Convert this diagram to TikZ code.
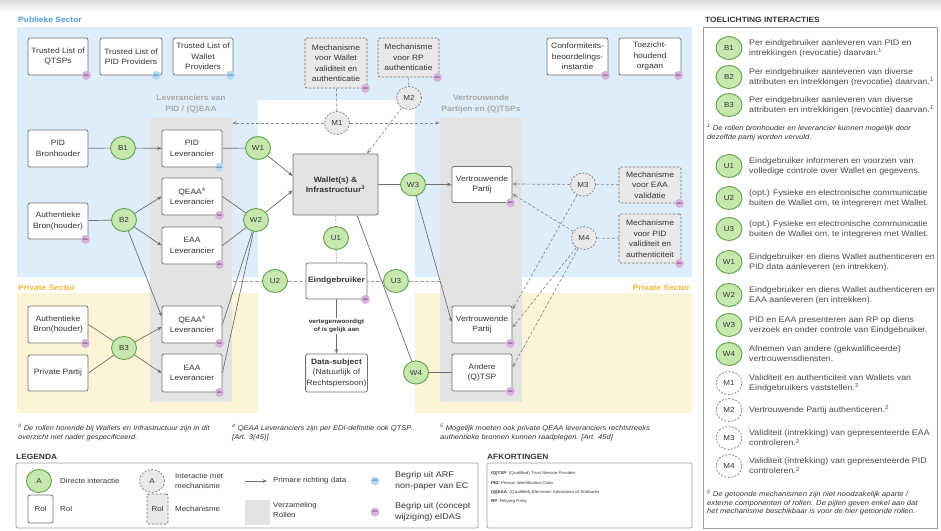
\documentclass[tikz,border=0pt]{standalone}
\usepackage{fontspec}
\setmainfont{Liberation Sans}[FakeStretch=1.1]
\usetikzlibrary{arrows.meta,shapes.geometric}

\definecolor{bluebg}{HTML}{DDEEFA}
\definecolor{yellowbg}{HTML}{FDF3D6}
\definecolor{grpgrey}{HTML}{E3E3E3}
\definecolor{linegrey}{HTML}{6E6E6E}
\definecolor{boxline}{HTML}{727272}
\definecolor{greenfill}{HTML}{C6E8AE}
\definecolor{greenline}{HTML}{5FA049}
\definecolor{mechfill}{HTML}{E9E9E9}
\definecolor{dashgrey}{HTML}{8A8A8A}
\definecolor{txt}{HTML}{363636}
\definecolor{pubblue}{HTML}{4A9ED8}
\definecolor{privorange}{HTML}{F4B733}
\definecolor{grplabel}{HTML}{A8A8A8}
\definecolor{arffill}{HTML}{B8DBF3}
\definecolor{arftext}{HTML}{2E6DA4}
\definecolor{edifill}{HTML}{D6B3D8}
\definecolor{editext}{HTML}{7A3E80}

\newcommand\dnodefont{\fontsize{7.7}{10.5}\selectfont}
\newcommand\dcircfont{\fontsize{7.3}{8}\selectfont}
\newcommand\dbadgefont{\fontsize{2.6}{3}\selectfont\bfseries}
\newcommand\dpanelfont{\fontsize{8.05}{9.9}\selectfont}
\newcommand\dnotefont{\fontsize{6.9}{9.8}\selectfont\itshape}
\newcommand\dlegfont{\fontsize{7.2}{10}\selectfont}
\newcommand\dheadfont{\fontsize{7.6}{9}\selectfont\bfseries}

\pgfdeclarelayer{areas}
\pgfdeclarelayer{links}
\pgfsetlayers{areas,links,main}

\tikzset{
  every node/.style={text=txt},
  rol/.style={draw=boxline, fill=white, rounded corners=2pt, line width=0.8pt,
    align=center, inner sep=1pt, font=\dnodefont, minimum width=60pt, minimum height=37pt},
  mech/.style={rol, dash pattern=on 2.5pt off 1.5pt, fill=mechfill},
  walletbox/.style={rol, fill=grpgrey, font=\dnodefont\bfseries},
  direct/.style={ellipse, draw=greenline, fill=greenfill, line width=0.9pt,
    minimum width=25pt, minimum height=23pt, inner sep=0pt, font=\dcircfont},
  viamech/.style={ellipse, draw=dashgrey, fill=mechfill, line width=0.8pt,
    dash pattern=on 2pt off 1.5pt, minimum width=25pt, minimum height=23pt,
    inner sep=0pt, font=\dcircfont},
  group/.style={fill=grpgrey, inner sep=0pt},
  conn/.style={draw=linegrey, line width=0.7pt},
  dataflow/.style={conn, -{Stealth[length=4.5pt,width=3.6pt]}},
  mlink/.style={conn, draw=dashgrey, dash pattern=on 3pt off 2pt},
  mflow/.style={mlink, -{Stealth[length=4.5pt,width=3.6pt]}},
  ulink/.style={conn, draw=dashgrey!80, dash pattern=on 3.5pt off 2pt},
  arf/.style={circle, fill=arffill, minimum size=9pt, inner sep=0pt, font=\dbadgefont, text=arftext},
  edi/.style={circle, fill=edifill, minimum size=9pt, inner sep=0pt, font=\dbadgefont, text=editext},
  seclabel/.style={font=\fontsize{7.7}{9}\selectfont\bfseries},
  grplab/.style={font=\fontsize{7.7}{11}\selectfont\bfseries, text=grplabel, align=center},
  ptext/.style={anchor=west, align=left, font=\dpanelfont, inner sep=0pt, text=txt!90},
  legtext/.style={anchor=west, align=left, font=\dlegfont, inner sep=0pt},
  note/.style={anchor=north west, align=left, font=\dnotefont, inner sep=0pt},
}

\begin{document}
\begin{tikzpicture}[x=1pt,y=-1pt]
\useasboundingbox (0,0) rectangle (941,530);

% ---------- areas ----------
\begin{pgfonlayer}{areas}
  \fill[white] (0,0) rectangle (941,530);
  \shade[top color=black!14, bottom color=white] (0,0) rectangle (941,12);
  \fill[bluebg] (17,27) -- (692,27) -- (692,277) -- (415,277) -- (415,100)
     -- (258,100) -- (258,277) -- (17,277) -- cycle;
  \fill[yellowbg] (17,293) rectangle (258,413);
  \fill[yellowbg] (415,293) rectangle (692,413);
  \node[group, minimum width=82pt, minimum height=284pt] (gleft) at (191,260) {};
  \node[group, minimum width=82pt, minimum height=284pt] (gright) at (481,260) {};
\end{pgfonlayer}

% ---------- sector and group labels ----------
\node[seclabel, text=pubblue, anchor=west, inner sep=0pt] (pubsec) at (18,20) {Publieke Sector};
\node[seclabel, text=privorange, anchor=west, inner sep=0pt] (privsecL) at (18,288) {Private Sector};
\node[seclabel, text=privorange, anchor=east, inner sep=0pt] (privsecR) at (690,288) {Private Sector};
\node[grplab] (glab) at (191,104.5) {Leveranciers van\\PID / (Q)EAA};
\node[grplab] (grlab) at (481,104.5) {Vertrouwende\\Partijen en (Q)TSPs};

% ---------- top row ----------
\node[rol] (tlq) at (58,56.5) {Trusted List of\\QTSPs};
\node[rol, minimum width=62pt] (tlp) at (131,56.5) {Trusted List of\\PID Providers};
\node[rol] (tlw) at (203,56.5) {Trusted List of\\Wallet\\Providers};
\node[mech, minimum width=62pt, minimum height=50pt] (mw) at (336,63) {Mechanisme\\voor Wallet\\validiteit en\\authenticatie};
\node[mech, minimum width=61pt, minimum height=39pt] (mrp) at (408.5,57.5) {Mechanisme\\voor RP\\authenticatie};
\node[rol, minimum width=61pt] (conf) at (577.5,56.5) {Conformiteits-\\beoordelings-\\instantie};
\node[rol, minimum width=62pt] (toez) at (650,56.5) {Toezicht-\\houdend\\orgaan};

% ---------- sources and providers ----------
\node[rol] (pidb) at (58,148.5) {PID\\Bronhouder};
\node[rol] (pidl) at (192,148.5) {PID\\Leverancier};
\node[rol] (qeaa1) at (192,196.5) {QEAA\textsuperscript{4}\\Leverancier};
\node[rol] (eaa1) at (192,245.5) {EAA\\Leverancier};
\node[rol, minimum height=36pt] (abpub) at (58,221) {Authentieke\\Bron(houder)};
\node[rol] (abpriv) at (58,324.5) {Authentieke\\Bron(houder)};
\node[rol, minimum height=36pt] (pp) at (58,373) {Private Partij};
\node[rol] (qeaa2) at (192,324.5) {QEAA\textsuperscript{4}\\Leverancier};
\node[rol, minimum height=38pt] (eaa2) at (192,373) {EAA\\Leverancier};

% ---------- wallet and end user ----------
\node[walletbox, minimum width=85pt, minimum height=61pt] (wallet) at (335.5,184.5) {Wallet(s) \&\\Infrastructuur\textsuperscript{3}};
\node[rol, minimum width=61pt, minimum height=36pt, font=\dnodefont\bfseries] (eind) at (336.5,281) {Eindgebruiker};
\node[rol, minimum width=61pt, minimum height=38pt] (data) at (336.5,373) {\textbf{Data-subject}\\(Natuurlijk of\\Rechtspersoon)};
\node[fill=white, inner sep=1pt, align=center, font=\fontsize{6}{8}\selectfont\bfseries] (rep) at (336.5,326) {vertegenwoordigt\\of is gelijk aan};

% ---------- relying parties ----------
\node[rol, minimum height=36pt] (vp1) at (482,184.5) {Vertrouwende\\Partij};
\node[rol] (vp2) at (482,324.5) {Vertrouwende\\Partij};
\node[rol] (aq) at (482,372.5) {Andere\\(Q)TSP};
\node[mech, minimum width=62pt, minimum height=36pt] (meaa) at (650,185) {Mechanisme\\voor EAA\\validatie};
\node[mech, minimum width=62pt, minimum height=49pt] (mpid) at (650,238.5) {Mechanisme\\voor PID\\validiteit en\\authenticiteit};

% ---------- badges ----------
\node[edi] (b-tlq) at ([xshift=-2pt]tlq.south east) {EDI};
\node[arf] (b-tlp) at ([xshift=-6pt]tlp.south east) {ARF};
\node[arf] (b-tlw) at ([xshift=-3pt]tlw.south east) {ARF};
\node[edi] (b-mw) at ([xshift=-2pt]mw.south east) {EDI};
\node[edi] (b-mrp) at ([xshift=-2pt]mrp.south east) {EDI};
\node[edi] (b-conf) at ([xshift=-3pt]conf.south east) {EDI};
\node[edi] (b-toez) at ([xshift=-3pt]toez.south east) {EDI};
\node[arf] (b-pidl) at ([xshift=-3pt]pidl.south east) {ARF};
\node[edi] (b-qeaa1) at ([xshift=-3pt]qeaa1.south east) {EDI};
\node[edi] (b-eaa1) at ([xshift=-3pt]eaa1.south east) {EDI};
\node[edi] (b-abpub) at ([xshift=-3pt]abpub.south east) {EDI};
\node[edi] (b-abpriv) at ([xshift=-3pt]abpriv.south east) {EDI};
\node[edi] (b-qeaa2) at ([xshift=-3pt]qeaa2.south east) {EDI};
\node[edi] (b-eaa2) at ([xshift=-3pt]eaa2.south east) {EDI};
\node[edi] (b-eind) at ([xshift=-2pt]eind.south east) {EDI};
\node[edi] (b-vp1) at ([xshift=-2pt]vp1.south east) {EDI};
\node[edi] (b-vp2) at ([xshift=-2pt]vp2.south east) {EDI};
\node[edi] (b-aq) at ([xshift=-2pt]aq.south east) {EDI};
\node[edi] (b-meaa) at ([xshift=-2pt]meaa.south east) {EDI};
\node[edi] (b-mpid) at ([xshift=-2pt]mpid.south east) {EDI};

% ---------- interaction circles ----------
\node[direct] (B1) at (123,148) {B1};
\node[direct] (B2) at (124,220) {B2};
\node[direct] (B3) at (124,348) {B3};
\node[direct] (W1) at (258,148) {W1};
\node[direct] (W2) at (256,220) {W2};
\node[direct] (W3) at (413,184.5) {W3};
\node[direct] (W4) at (416,372.5) {W4};
\node[direct] (U1) at (336,238) {U1};
\node[direct] (U2) at (275,281) {U2};
\node[direct] (U3) at (396,281) {U3};
\node[viamech] (M1) at (337,123) {M1};
\node[viamech] (M2) at (409,98) {M2};
\node[viamech] (M3) at (583,184.5) {M3};
\node[viamech] (M4) at (584,238) {M4};

% ---------- connectors ----------
\coordinate (uL) at (233,281);
\coordinate (uR) at (440,281);
\begin{pgfonlayer}{links}
  % suppliers of attributes
  \draw[conn] (pidb) -- (B1);
  \draw[dataflow] (B1) -- (pidl);
  \draw[conn] (abpub) -- (B2);
  \draw[dataflow] (B2) -- (qeaa1.west);
  \draw[dataflow] (B2) -- (eaa1.west);
  \draw[dataflow] (B2) -- ([yshift=8pt]qeaa2.west);
  \draw[conn] (abpriv.east) -- (B3);
  \draw[conn] (pp.east) -- (B3);
  \draw[dataflow] (B3) -- ([yshift=-2.5pt]qeaa2.west);
  \draw[dataflow] (B3) -- (eaa2.west);
  % towards the wallet
  \draw[conn] (pidl) -- (W1);
  \draw[dataflow] (W1) -- ([yshift=8.5pt]wallet.west);
  \draw[conn] (qeaa1.east) -- (W2);
  \draw[conn] (eaa1.east) -- (W2);
  \draw[conn] (qeaa2.east) -- (W2);
  \draw[conn] (eaa2.east) -- (W2);
  \draw[dataflow] (W2) -- ([yshift=-6pt]wallet.west);
  % towards relying parties
  \draw[conn] (wallet) -- (W3);
  \draw[dataflow] (W3) -- (vp1);
  \draw[dataflow] (W3) -- ([yshift=2.5pt]vp2.west);
  \draw[conn] ([xshift=21.5pt]wallet.south) -- (W4);
  \draw[conn] (W4) -- (aq);
  % end user
  \draw[ulink] (uL) -- (uR);
  \draw[ulink, dash pattern=on 2pt off 1.5pt] (wallet) -- (U1);
  \draw[ulink, dash pattern=on 2pt off 1.5pt] (U1) -- (eind);
  \draw[dataflow] (eind) -- (data);
  % mechanisms
  \draw[mlink] (mw) -- (M1);
  \draw[mflow] (M1) -- (gleft.east |- M1);
  \draw[mflow] (M1) -- (gright.west |- M1);
  \draw[mlink] (mrp) -- (M2);
  \draw[mflow] (M2) -- ([xshift=31.5pt]wallet.north);
  \draw[mlink] (M3) -- (meaa);
  \draw[mflow] (M3) -- ([yshift=0.5pt]vp1.east);
  \draw[mflow] (M3) -- ([yshift=15pt]vp2.east);
  \draw[mlink] (M4) -- (mpid);
  \draw[mflow] (M4) -- ([yshift=-9.5pt]vp1.east);
  \draw[mflow] (M4) -- ([yshift=-3pt]vp2.east);
  \draw[mflow] (M4) -- ([yshift=5pt]aq.east);
\end{pgfonlayer}

% ---------- footnotes ----------
\node[note] (fn3) at (18,423.5) {\textsuperscript{3} De rollen horende bij Wallets en Infrastructuur zijn in dit\\overzicht niet nader gespecificeerd.};
\node[note] (fn4) at (232,423.5) {\textsuperscript{4} QEAA Leveranciers zijn per EDI-definitie ook QTSP.\\{}[Art. 3(45)]};
\node[note] (fn5) at (440,423.5) {\textsuperscript{5} Mogelijk moeten ook private QEAA leveranciers rechtstreeks\\authentieke bronnen kunnen raadplegen. [Art. 45d]};

% ---------- legend ----------
\node[font=\dheadfont, anchor=west, inner sep=0pt] (legtitle) at (16,457) {LEGENDA};
\draw[draw=boxline!70, line width=0.7pt, rounded corners=2pt] (16,463) rectangle (478,528);
\node[direct] (lgA) at (39,481) {A};
\node[legtext] (lgAt) at (60,481) {Directe interactie};
\node[viamech] (lgM) at (152,481) {A};
\node[legtext] (lgMt) at (175,481) {Interactie met\\mechanisme};
\coordinate (la1) at (245,481);
\coordinate (la2) at (267,481);
\draw[dataflow] (la1) -- (la2);
\node[legtext] (lgDt) at (273,481) {Primare richting data};
\node[arf] (lgARF) at (375,481) {ARF};
\node[legtext, font=\fontsize{8.2}{10.5}\selectfont] (lgARFt) at (395,481) {Begrip uit ARF\\non-paper van EC};
\node[rol, minimum width=25pt, minimum height=28pt, font=\dlegfont] (lgR) at (40.5,509) {Rol};
\node[legtext] (lgRt) at (60,509) {Rol};
\node[mech, minimum width=21pt, minimum height=30pt, font=\dlegfont] (lgMe) at (157.5,509) {Rol};
\node[legtext] (lgMet) at (175,509) {Mechanisme};
\node[group, minimum width=25pt, minimum height=25pt] (lgG) at (257.5,512) {};
\node[legtext] (lgGt) at (273,510) {Verzameling\\Rollen};
\node[edi] (lgEDI) at (375,512) {EDI};
\node[legtext, font=\fontsize{8.2}{10.5}\selectfont] (lgEDIt) at (395,512) {Begrip uit (concept\\wijziging) eIDAS};

% ---------- abbreviations ----------
\node[font=\dheadfont, anchor=west, inner sep=0pt] (abbtitle) at (487,457) {AFKORTINGEN};
\draw[draw=boxline!70, line width=0.7pt, rounded corners=2pt] (487,463) rectangle (692,528);
\node[anchor=north west, align=left, inner sep=0pt, font=\fontsize{4.1}{9.4}\selectfont] (abbr) at (491,471.5)
  {\textbf{(Q)TSP}: (Qualified) Trust Service Provider\\
   \textbf{PID}: Person Identification Data\\
   \textbf{(Q)EAA}: (Qualified) Electronic Attestation of Attributes\\
   \textbf{RP}: Relying Party};

% ---------- explanation panel ----------
\node[font=\dheadfont, anchor=west, inner sep=0pt] (ptitle) at (705,20) {TOELICHTING INTERACTIES};
\draw[draw=boxline!70, line width=0.7pt] (703,27) rectangle (937,528);

\node[direct, minimum width=26pt] (pB1) at (729,48) {B1};
\node[ptext] (tB1) at (749,48) {Per eindgebruiker aanleveren van PID en\\intrekkingen (revocatie) daarvan.\textsuperscript{1}};
\node[direct, minimum width=26pt] (pB2) at (729,77) {B2};
\node[ptext] (tB2) at (749,77) {Per eindgebruiker aanleveren van diverse\\attributen en intrekkingen (revocatie) daarvan.\textsuperscript{1}};
\node[direct, minimum width=26pt] (pB3) at (729,105) {B3};
\node[ptext] (tB3) at (749,105) {Per eindgebruiker aanleveren van diverse\\attributen en intrekkingen (revocatie) daarvan.\textsuperscript{1}};
\node[note, font=\fontsize{7}{9}\selectfont\itshape] (fn1) at (707,124) {\textsuperscript{1} De rollen bronhouder en leverancier kunnen mogelijk door\\dezelfde partij worden vervuld.};

\node[direct, minimum width=26pt] (pU1) at (729,166) {U1};
\node[ptext] (tU1) at (749,166) {Eindgebruiker informeren en voorzien van\\volledige controle over Wallet en gegevens.};
\node[direct, minimum width=26pt] (pU2) at (729,198) {U2};
\node[ptext] (tU2) at (749,198) {(opt.) Fysieke en electronische communicatie\\buiten de Wallet om, te integreren met Wallet.};
\node[direct, minimum width=26pt] (pU3) at (729,229) {U3};
\node[ptext] (tU3) at (749,229) {(opt.) Fysieke en electronische communicatie\\buiten de Wallet om, te integreren met Wallet.};
\node[direct, minimum width=26pt] (pW1) at (729,262) {W1};
\node[ptext] (tW1) at (749,262) {Eindgebruiker en diens Wallet authenticeren en\\PID data aanleveren (en intrekken).};
\node[direct, minimum width=26pt] (pW2) at (729,295) {W2};
\node[ptext] (tW2) at (749,295) {Eindgebruiker en diens Wallet authenticeren en\\EAA aanleveren (en intrekken).};
\node[direct, minimum width=26pt] (pW3) at (729,325) {W3};
\node[ptext] (tW3) at (749,325) {PID en EAA presenteren aan RP op diens\\verzoek en onder controle van Eindgebruiker.};
\node[direct, minimum width=26pt] (pW4) at (729,354) {W4};
\node[ptext] (tW4) at (749,354) {Afnemen van andere (gekwalificeerde)\\vertrouwensdiensten.};

\node[viamech, fill=white, minimum width=26pt] (pM1) at (729,383) {M1};
\node[ptext] (tM1) at (749,383) {Validiteit en authenticiteit van Wallets van\\Eindgebruikers vaststellen.\textsuperscript{2}};
\node[viamech, fill=white, minimum width=26pt] (pM2) at (729,410) {M2};
\node[ptext] (tM2) at (749,410) {Vertrouwende Partij authenticeren.\textsuperscript{2}};
\node[viamech, fill=white, minimum width=26pt] (pM3) at (729,438) {M3};
\node[ptext] (tM3) at (749,438) {Validiteit (intrekking) van gepresenteerde EAA\\controleren.\textsuperscript{2}};
\node[viamech, fill=white, minimum width=26pt] (pM4) at (729,466) {M4};
\node[ptext] (tM4) at (749,466) {Validiteit (intrekking) van gepresenteerde PID\\controleren.\textsuperscript{2}};
\node[note, font=\fontsize{7}{8.6}\selectfont\itshape] (fn2) at (707,490) {\textsuperscript{2} De getoonde mechanismen zijn niet noodzakelijk aparte /\\externe componenten of rollen. De pijlen geven enkel aan dat\\het mechanisme beschikbaar is voor de hier getoonde rollen.};

\end{tikzpicture}
\end{document}
